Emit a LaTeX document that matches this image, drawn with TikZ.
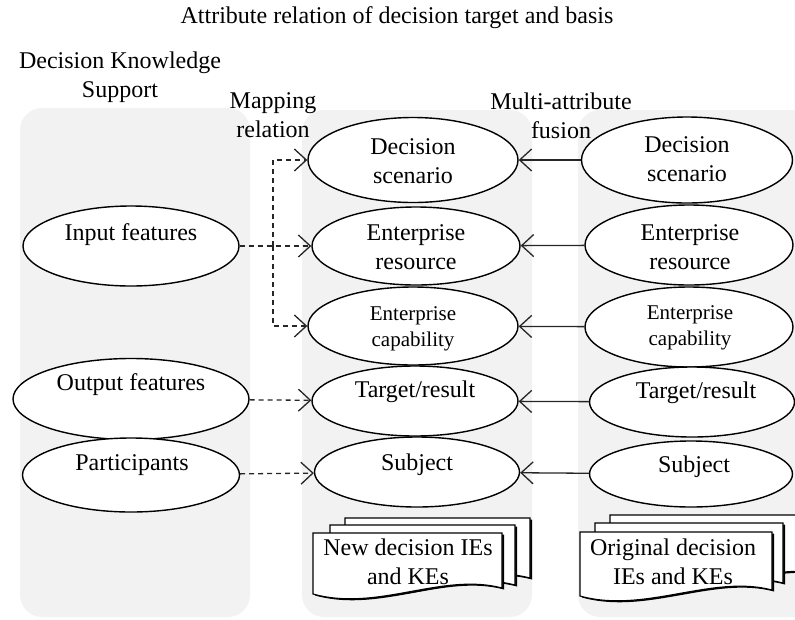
\documentclass[tikz,border=0pt]{standalone}
\usepackage{fontspec}
\setmainfont{Liberation Serif}
\usetikzlibrary{shapes.geometric,arrows.meta}
\newcommand{\mydoc}[4]{%
  \fill[black] ([xshift=2pt,yshift=-1.5pt]#1,#2) -- ([xshift=2pt,yshift=-1.5pt]#3,#2) -- ([xshift=2pt,yshift=-1.5pt]#3,#4) .. controls +(-60,-16) and +(65,18) .. ([xshift=2pt,yshift=-1.5pt]#1,#4+6) -- cycle;
  \draw[doc] (#1,#2) -- (#3,#2) -- (#3,#4) .. controls +(-60,-16) and +(65,18) .. (#1,#4+6) -- cycle;}
\begin{document}
\begin{tikzpicture}[x=1pt,y=-1pt,
  ell/.style={draw=black,line width=1.4pt,ellipse,fill=white,inner sep=0pt},
  lbl/.style={font=\fontsize{24}{29}\selectfont,align=center,inner sep=0pt},
  smalllbl/.style={font=\fontsize{21}{26}\selectfont,align=center,inner sep=0pt},
  panel/.style={fill=black!5,rounded corners=22pt},
  map/.style={draw=black!85,line width=1.3pt,dash pattern=on 5pt off 4pt,-{Straight Barb[length=12pt,width=22pt,line width=1.3pt]}},
  fus/.style={draw=black!85,line width=1.3pt,-{Straight Barb[length=12pt,width=22pt,line width=1.3pt]}},
  doc/.style={draw=black,line width=1.1pt,fill=white}]
\useasboundingbox (0,0) rectangle (795,619);

% panels
\fill[panel] (20,108) rectangle (250,617);
\fill[panel] (302,110) rectangle (532,617);
\fill[panel] (578,110) rectangle (840,617);

% headings
\node[lbl] (title) at (397,18) {Attribute relation of decision target and basis};
\node[lbl] (dks) at (120,77) {Decision Knowledge\\Support};
\node[lbl] (mr) at (273,115) {Mapping\\relation};
\node[lbl] (maf) at (561,116) {Multi-attribute\\fusion};

% left column
\node[ell,minimum width=216pt,minimum height=80pt] (inp) at (131,246) {};
\node[ell,minimum width=236pt,minimum height=81pt] (out) at (131,399) {};
\node[ell,minimum width=217pt,minimum height=74pt] (par) at (131,475) {};
\node[lbl] (inpT) at (131,235) {Input features};
\node[lbl] (outT) at (131,385) {Output features};
\node[lbl] (parT) at (132,465) {Participants};

% middle column
\node[ell,minimum width=210pt,minimum height=85pt] (ds) at (413,160) {};
\node[ell,minimum width=208pt,minimum height=78pt] (er) at (416,246) {};
\node[ell,minimum width=210pt,minimum height=78pt] (ec) at (413,326) {};
\node[ell,minimum width=206pt,minimum height=70pt] (tr) at (415,401) {};
\node[ell,minimum width=205pt,minimum height=70pt] (su) at (417,472) {};
\node[lbl] (dsT) at (413,161) {Decision\\scenario};
\node[lbl] (erT) at (416,247) {Enterprise\\resource};
\node[smalllbl] (ecT) at (413,329) {Enterprise\\capability};
\node[lbl] (trT) at (415,392) {Target/result};
\node[lbl] (suT) at (417,465) {Subject};

% right column
\node[ell,minimum width=211pt,minimum height=86pt] (rds) at (687,160) {};
\node[ell,minimum width=208pt,minimum height=80pt] (rer) at (689,245) {};
\node[ell,minimum width=208pt,minimum height=80pt] (rec) at (689,327) {};
\node[ell,minimum width=205pt,minimum height=70pt] (rtr) at (692,402) {};
\node[ell,minimum width=203pt,minimum height=66pt] (rsu) at (691,474) {};
\node[lbl] (rdsT) at (687,159) {Decision\\scenario};
\node[lbl] (rerT) at (690,247) {Enterprise\\resource};
\node[smalllbl] (recT) at (690,328) {Enterprise\\capability};
\node[lbl] (rtrT) at (696,393) {Target/result};
\node[lbl] (rsuT) at (694,467) {Subject};

% mapping relation (dashed)
\coordinate (j) at (273,246);
\draw[map] (inp) -- (er);
\draw[map] (j) |- (ds.west);
\draw[map] (j) |- (ec.west);
\draw[map] (out) -- (tr);
\draw[map] (par) -- (su);

% multi-attribute fusion
\draw[fus] (rds) -- (ds);
\draw[fus] (rer) -- (er);
\draw[fus] (rec) -- (ec);
\draw[fus] (rtr) -- (tr);
\draw[fus] (rsu) -- (su);

% documents
\mydoc{345}{518}{530}{578}
\mydoc{330}{525}{515}{585}
\mydoc{313}{533}{502}{588}
\node[lbl] (newdoc) at (408,562) {New decision IEs\\and KEs};
\mydoc{610}{515}{840}{575}
\mydoc{595}{523}{783}{583}
\mydoc{580}{532}{772}{590}
\node[lbl] (origdoc) at (673,562) {Original decision\\IEs and KEs};
\end{tikzpicture}
\end{document}
